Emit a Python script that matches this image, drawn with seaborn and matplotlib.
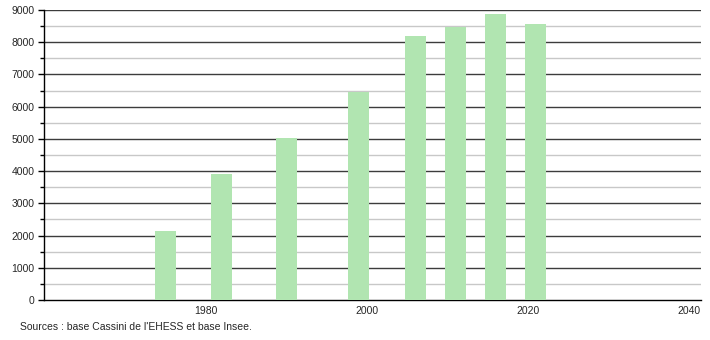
import matplotlib
matplotlib.use("Agg")
import matplotlib.pyplot as plt
import seaborn as sns
import pandas as pd
from matplotlib.ticker import MultipleLocator

years = [1975, 1982, 1990, 1999, 2006, 2011, 2016, 2021]
population = [2150, 3920, 5025, 6470, 8205, 8470, 8880, 8575]
x_ticks = [1980, 2000, 2020, 2040]
y_ticks = [0, 1000, 2000, 3000, 4000, 5000, 6000, 7000, 8000, 9000]
source = "Sources : base Cassini de l'EHESS et base Insee."

sns.set_style("white")
plt.rcParams['font.family'] = ['Liberation Sans', 'DejaVu Sans']

df = pd.DataFrame({"year": years, "pop": population})

fig = plt.figure(figsize=(7.1, 3.4), dpi=100)
ax = fig.add_axes([0.062, 0.1176, 0.925, 0.853])

sns.barplot(data=df, x="year", y="pop", native_scale=True, width=0.52,
            color="#b1e5b1", saturation=1, edgecolor="none", linewidth=0,
            ax=ax, zorder=3)

ax.set_xlim(1959.9, 2041.5)
ax.set_ylim(0, 9000)
ax.set_xticks(x_ticks)
ax.set_xticklabels([str(t) for t in x_ticks])
ax.set_yticks(y_ticks)
ax.set_yticklabels([str(t) for t in y_ticks])
ax.yaxis.set_minor_locator(MultipleLocator(500))

ax.grid(False)
for v in y_ticks[1:]:
    ax.axhline(v, color="#3c3c3c", linewidth=1.0, zorder=1)
for v in range(500, 9000, 1000):
    ax.axhline(v, color="#c8c8c8", linewidth=1.0, zorder=1)

for s in ["top", "right"]:
    ax.spines[s].set_visible(False)
ax.spines["left"].set_color("black")
ax.spines["bottom"].set_color("black")
ax.spines["left"].set_linewidth(1.0)
ax.spines["bottom"].set_linewidth(1.0)

ax.tick_params(axis="y", which="major", length=4, width=1, color="black",
               labelsize=7.5, pad=3, left=True)
ax.tick_params(axis="y", which="minor", length=3, width=1, color="black", left=True)
ax.tick_params(axis="x", which="both", length=0, labelsize=7.5, pad=4)
ax.set_xlabel("")
ax.set_ylabel("")

fig.text(0.028, 0.038, source, fontsize=7.5, ha="left", va="center")

fig.savefig("out.png", dpi=100)
